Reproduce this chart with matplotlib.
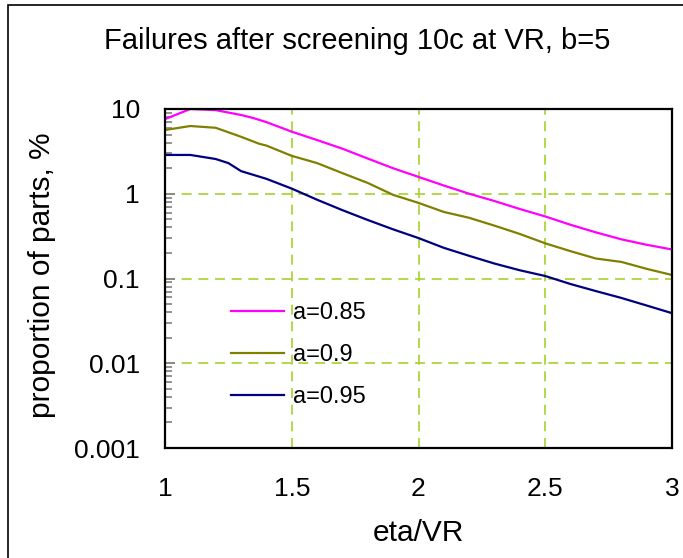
import matplotlib
matplotlib.use("Agg")
import matplotlib.pyplot as plt
from matplotlib.patches import Rectangle
from matplotlib.ticker import LogLocator, NullFormatter

# Curves (eta/VR vs proportion of parts, %)
x_085 = [1.0, 1.1, 1.2, 1.3, 1.35, 1.4, 1.5, 1.6, 1.7, 1.8, 1.9, 2.0,
         2.1, 2.2, 2.3, 2.4, 2.5, 2.6, 2.7, 2.8, 2.9, 3.0]
y_085 = [7.6, 10.0, 9.7, 8.5, 7.8, 7.0, 5.4, 4.3, 3.4, 2.6, 2.0, 1.58,
         1.25, 1.0, 0.82, 0.66, 0.54, 0.43, 0.35, 0.29, 0.25, 0.22]

x_090 = [1.0, 1.1, 1.2, 1.3, 1.37, 1.4, 1.5, 1.6, 1.7, 1.8, 1.9, 2.0,
         2.1, 2.2, 2.3, 2.4, 2.5, 2.6, 2.7, 2.8, 2.9, 3.0]
y_090 = [5.65, 6.3, 6.0, 4.7, 3.9, 3.7, 2.8, 2.3, 1.75, 1.34, 0.97, 0.78,
         0.61, 0.52, 0.42, 0.335, 0.26, 0.21, 0.172, 0.157, 0.13, 0.11]

x_095 = [1.0, 1.1, 1.2, 1.25, 1.3, 1.4, 1.5, 1.6, 1.7, 1.8, 1.9, 2.0,
         2.1, 2.2, 2.3, 2.4, 2.5, 2.6, 2.7, 2.8, 2.9, 3.0]
y_095 = [2.87, 2.87, 2.57, 2.3, 1.85, 1.5, 1.15, 0.85, 0.64, 0.49, 0.38, 0.30,
         0.23, 0.185, 0.15, 0.125, 0.107, 0.086, 0.071, 0.059, 0.048, 0.039]

labels = ["a=0.85", "a=0.9", "a=0.95"]
colors = ["#FF00FF", "#808000", "#000080"]

xticks = [1, 1.5, 2, 2.5, 3]
xtick_labels = ["1", "1.5", "2", "2.5", "3"]
yticks = [0.001, 0.01, 0.1, 1, 10]
ytick_labels = ["0.001", "0.01", "0.1", "1", "10"]

plt.rcParams['font.family'] = ['Liberation Sans', 'DejaVu Sans']

W, H = 683, 558
fig = plt.figure(figsize=(W / 100, H / 100), dpi=100)
ax = fig.add_axes([165 / W, 1 - 448 / H, (672 - 165) / W, (448 - 109) / H])

for xs, ys, lab, c in zip([x_085, x_090, x_095], [y_085, y_090, y_095], labels, colors):
    ax.plot(xs, ys, color=c, lw=1.6, label=lab, solid_joinstyle='round')

ax.set_yscale('log')
ax.set_xlim(1, 3)
ax.set_ylim(0.001, 10)

ax.set_xticks(xticks)
ax.set_xticklabels(xtick_labels)
ax.set_yticks(yticks)
ax.set_yticklabels(ytick_labels)
ax.yaxis.set_minor_locator(LogLocator(base=10, subs=range(2, 10)))
ax.yaxis.set_minor_formatter(NullFormatter())

ax.tick_params(axis='x', length=0, pad=21, labelsize=19)
ax.tick_params(axis='y', which='major', direction='in', length=7, width=1.2,
               color='#808080', pad=18, labelsize=19)
ax.tick_params(axis='y', which='minor', direction='in', length=5, width=1.2,
               color='#808080')

grid_kw = dict(color='#A6D22E', lw=1.2, ls=(0, (6, 4)))
for gx in [1.5, 2, 2.5]:
    ax.axvline(gx, zorder=0, **grid_kw)
for gy in [0.01, 0.1, 1]:
    ax.axhline(gy, zorder=0, **grid_kw)

for sp in ax.spines.values():
    sp.set_linewidth(1.6)
    sp.set_color('black')

ax.set_xlabel("eta/VR", fontsize=21.5)
ax.set_ylabel("proportion of parts, %", fontsize=21.5)
ax.xaxis.set_label_coords((418 - 165) / 507, -(519 - 448) / 339)
ax.yaxis.set_label_coords(-(165 - 56) / 507, (448 - 275) / 339)
fig.text(357 / W, 1 - 49 / H, "Failures after screening 10c at VR, b=5",
         fontsize=21, ha='center', va='baseline')

leg = ax.legend(loc='upper left', bbox_to_anchor=(0.088, 0.493), frameon=False,
                fontsize=17, handlelength=2.25, handletextpad=0.38,
                labelspacing=0.85)

# outer chart border
fig.patches.append(Rectangle((8 / W, -0.1), 1.2, 1.1 - 5 / H, transform=fig.transFigure,
                             fill=False, lw=1.2, ec='black'))

fig.savefig("out.png", dpi=100)
